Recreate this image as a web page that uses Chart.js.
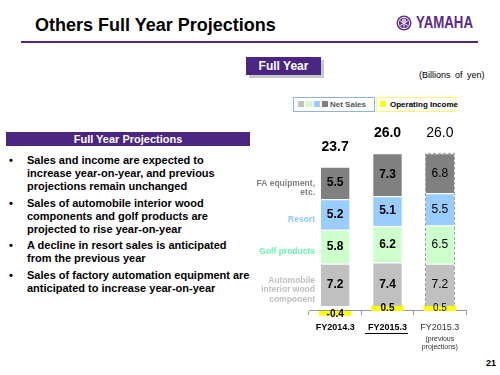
<!DOCTYPE html>
<html>
<head>
<meta charset="utf-8">
<script src="https://cdn.jsdelivr.net/npm/chart.js@4.4.1/dist/chart.umd.min.js"></script>
<style>
  body {
    margin: 0;
    width: 500px;
    height: 375px;
    position: relative;
    overflow: hidden;
    background: #fff;
    font-family: "Liberation Sans", Arial, sans-serif;
  }
  .abs { position: absolute; white-space: nowrap; }
  #title { left: 35px; top: 15px; font-size: 18px; font-weight: bold; color: #000; }
  #rule { left: 21px; top: 41px; width: 457px; height: 2px; background: #4f2683; }
  #logo { left: 396px; top: 15px; height: 16px; }
  #logoText {
    position: absolute; left: 20px; top: -2px; font-size: 17px; font-weight: bold;
    color: #5b2a8c; transform: scaleX(0.78); transform-origin: left center;
  }
  #fullYear {
    left: 246px; top: 57px; width: 75px; height: 18px; background: #4b2582;
    color: #fff; font-weight: bold; font-size: 12px; line-height: 18px; text-align: center;
    box-shadow: 3px 3px 0 #c8c8c8;
  }
  #unit { left: 419px; top: 70px; font-size: 9px; color: #000; word-spacing: 2px; }
  .legendBox { top: 97px; height: 13px; border: 1px solid; font-size: 8px; font-weight: bold; line-height: 13px; }
  .sq { display: inline-block; width: 6px; height: 6px; margin-right: 2px; vertical-align: middle; position: relative; top: -1px; }
  #legSales { left: 293px; width: 76px; border-color: #8db3e2; color: #555; padding-left: 4px; }
  #legOi { left: 376px; width: 75px; border-color: #ffff66; color: #000; padding-left: 3px; }
  #panelHead {
    left: 6px; top: 132px; width: 244px; height: 14px; background: #4b2582; color: #fff;
    font-size: 11px; font-weight: bold; line-height: 14px; text-align: center;
  }
  #bullets { left: 0px; top: 154px; font-size: 11px; font-weight: bold; line-height: 13px; color: #000; }
  .bl { position: relative; padding-left: 27px; margin-bottom: 3.5px; }
  .bl::before { content: "\2022"; position: absolute; left: 9px; top: 0; }
  #page { left: 486px; top: 358px; font-size: 9px; font-weight: bold; }
  #chartBox { position: absolute; left: 250px; top: 120px; width: 240px; height: 250px; }
</style>
</head>
<body>
<div id="title" class="abs">Others Full Year Projections</div>
<div id="rule" class="abs"></div>
<div id="logo" class="abs">
  <svg width="16" height="16" viewBox="0 0 16 16" style="position:absolute;left:0;top:0">
    <circle cx="8" cy="8" r="7.5" fill="#5b2a8c"/>
    <circle cx="8" cy="8" r="5.6" fill="none" stroke="#fff" stroke-width="1"/>
    <g stroke="#fff" stroke-width="1" fill="none">
      <path d="M8 3.5 V12.5 M6.8 4 V7 M9.2 4 V7"/>
      <path d="M4.2 10.5 L11.8 6 M4.2 6 L11.8 10.5"/>
    </g>
  </svg>
  <span id="logoText">YAMAHA</span>
</div>
<div id="fullYear" class="abs">Full Year</div>
<div id="unit" class="abs">(Billions of yen)</div>
<div id="legSales" class="abs legendBox"><span class="sq" style="background:#c0c0c0"></span><span class="sq" style="background:#ccffcc"></span><span class="sq" style="background:#99ccff"></span><span class="sq" style="background:#808080"></span>Net Sales</div>
<div id="legOi" class="abs legendBox"><span class="sq" style="background:#ffff00;margin-right:4px"></span>Operating Income</div>
<div id="panelHead" class="abs">Full Year Projections</div>
<div id="bullets" class="abs">
  <div class="bl">Sales and income are expected to<br>increase year-on-year, and previous<br>projections remain unchanged</div>
  <div class="bl">Sales of automobile interior wood<br>components and golf products are<br>projected to rise year-on-year</div>
  <div class="bl">A decline in resort sales is anticipated<br>from the previous year</div>
  <div class="bl">Sales of factory automation equipment are<br>anticipated to increase year-on-year</div>
</div>
<div id="page" class="abs">21</div>
<div id="chartBox"><canvas id="othersChart"></canvas></div>

<script>
/* chart data */
const categories = ["FY2014.3", "FY2015.3", "FY2015.3"];
const autoWood = [7.2, 7.4, 7.2];
const golfProducts = [5.8, 6.2, 6.5];
const resort = [5.2, 5.1, 5.5];
const faEquipment = [5.5, 7.3, 6.8];
const netSalesTotals = [23.7, 26.0, 26.0];
const operatingIncome = [-0.4, 0.5, 0.5];

const segmentLabels = [
  ["Automobile", "interior wood", "component"],
  ["Golf products"],
  ["Resort"],
  ["FA equipment,", "etc."]
];
const segmentLabelColors = ["#bfbfbf", "#66f2b5", "#8fc6ff", "#808080"];

const FONT = "'Liberation Sans', Arial, sans-serif";

/* labels drawn on top of the bars */
const barLabelsPlugin = {
  id: "barLabels",
  afterDatasetsDraw(chart) {
    const ctx = chart.ctx;
    ctx.save();
    ctx.textAlign = "center";
    ctx.textBaseline = "middle";

    // dashed outline round the previous projections bar
    const topBar = chart.getDatasetMeta(3).data[2];
    const bottomBar = chart.getDatasetMeta(0).data[2];
    ctx.strokeStyle = "#a0a0a0";
    ctx.lineWidth = 1;
    ctx.setLineDash([3, 2]);
    const left = Math.round(topBar.x - topBar.width / 2) + 0.5;
    const right = Math.round(topBar.x + topBar.width / 2) - 0.5;
    ctx.beginPath();
    ctx.moveTo(left, bottomBar.base);
    ctx.lineTo(left, topBar.y);
    ctx.lineTo(right, topBar.y);
    ctx.lineTo(right, bottomBar.base);
    ctx.stroke();
    ctx.setLineDash([]);

    // segment values
    for (let d = 0; d < 4; d++) {
      const meta = chart.getDatasetMeta(d);
      meta.data.forEach((bar, i) => {
        ctx.font = (i === 2 ? "" : "bold ") + "12px " + FONT;
        ctx.fillStyle = "#000";
        ctx.fillText(chart.data.datasets[d].data[i].toFixed(1), bar.x, (bar.y + bar.base) / 2);
      });
    }

    // operating income values
    chart.getDatasetMeta(4).data.forEach((bar, i) => {
      ctx.font = (i === 2 ? "" : "bold ") + "10px " + FONT;
      ctx.fillStyle = "#000";
      ctx.fillText(operatingIncome[i].toFixed(1), bar.x, (bar.y + bar.base) / 2 + 0.5);
    });

    // totals above the bars
    const yScale = chart.scales.y;
    netSalesTotals.forEach((total, i) => {
      const x = chart.getDatasetMeta(3).data[i].x;
      ctx.font = (i === 2 ? "" : "bold ") + "14px " + FONT;
      ctx.fillStyle = "#000";
      ctx.fillText(total.toFixed(1), x, yScale.getPixelForValue(total) - 20);
    });

    // segment names left of the first bar
    ctx.textAlign = "right";
    ctx.font = "bold 8.5px " + FONT;
    for (let d = 0; d < 4; d++) {
      const bar = chart.getDatasetMeta(d).data[0];
      const lines = segmentLabels[d];
      const mid = (bar.y + bar.base) / 2 + 5;
      const x = bar.x - bar.width / 2 - 5;
      ctx.fillStyle = segmentLabelColors[d];
      lines.forEach((line, k) => {
        ctx.fillText(line, x, mid + (k - (lines.length - 1) / 2) * 9.5);
      });
    }

    // category labels
    const xScale = chart.scales.x;
    ctx.textAlign = "center";
    const labelY = 208;
    categories.forEach((cat, i) => {
      const x = xScale.getPixelForValue(i);
      ctx.font = (i === 2 ? "" : "bold ") + "9px " + FONT;
      ctx.fillStyle = i === 2 ? "#333" : "#000";
      ctx.fillText(cat, x, labelY);
      if (i === 1) {
        const w = ctx.measureText(cat).width;
        ctx.fillRect(x - w / 2 - 3, labelY + 5, w + 4, 1);
      }
      if (i === 2) {
        ctx.font = "7px " + FONT;
        ctx.fillText("(previous", x, labelY + 11);
        ctx.fillText("projections)", x, labelY + 19);
      }
    });

    ctx.restore();
  }
};

const salesBar = {
  xAxisID: "x",
  yAxisID: "y",
  stack: "sales",
  grouped: false,
  borderColor: "#ffffff",
  borderWidth: 1,
  barPercentage: 0.58,
  categoryPercentage: 1
};

const othersChart = new Chart(document.querySelector("#othersChart"), {
  type: "bar",
  data: {
    labels: categories,
    datasets: [
      { ...salesBar, label: "Automobile interior wood component", data: autoWood, backgroundColor: "#c0c0c0" },
      { ...salesBar, label: "Golf products", data: golfProducts, backgroundColor: "#ccffcc" },
      { ...salesBar, label: "Resort", data: resort, backgroundColor: "#99ccff" },
      { ...salesBar, label: "FA equipment, etc.", data: faEquipment, backgroundColor: "#808080" },
      {
        label: "Operating Income",
        data: operatingIncome,
        xAxisID: "x2",
        yAxisID: "y2",
        grouped: false,
        backgroundColor: "#ffff00",
        borderWidth: 0,
        barPercentage: 0.62,
        categoryPercentage: 1
      }
    ]
  },
  options: {
    responsive: true,
    maintainAspectRatio: false,
    animation: false,
    layout: {
      padding: { left: 59, right: 24, top: 10, bottom: 48 }
    },
    plugins: {
      legend: { display: false },
      tooltip: { enabled: false }
    },
    scales: {
      x: {
        type: "category",
        stacked: true,
        offset: true,
        position: { y2: 0 },
        grid: {
          offset: true,
          drawOnChartArea: false,
          drawTicks: true,
          tickLength: 4,
          color: "#999999"
        },
        border: { color: "#999999" },
        ticks: { display: false }
      },
      x2: {
        type: "category",
        display: false,
        offset: true
      },
      y: {
        stacked: true,
        display: false,
        min: -2.73,
        max: 29.98
      },
      y2: {
        display: false,
        min: -0.92,
        max: 15.08
      }
    }
  },
  plugins: [barLabelsPlugin]
});
</script>
</body>
</html>
